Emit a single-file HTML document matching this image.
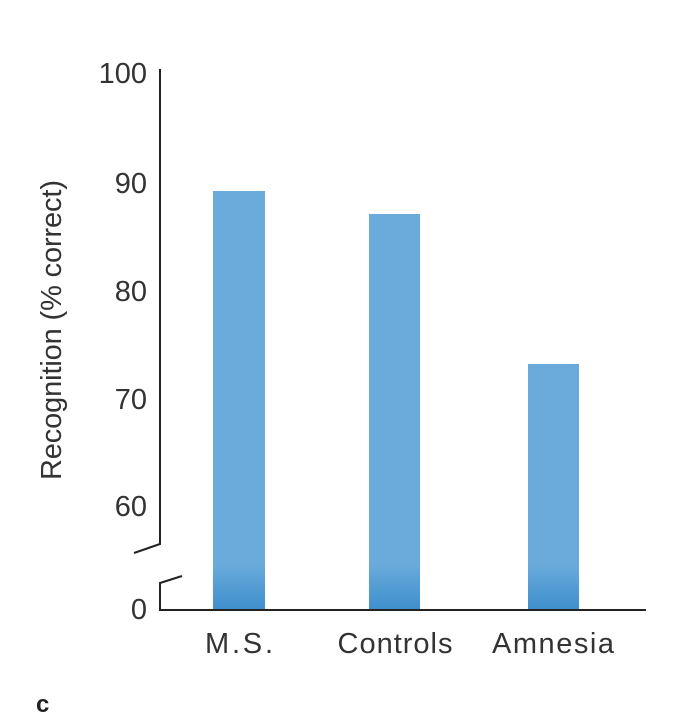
<!DOCTYPE html>
<html><head><style>body{margin:0;background:#fff}</style></head><body>
<svg width="676" height="722" xmlns="http://www.w3.org/2000/svg" font-family="Liberation Sans, sans-serif">
<defs><linearGradient id="g" x1="0" y1="0" x2="0" y2="1"><stop offset="0" stop-color="#6aabdb"/><stop offset="1" stop-color="#3e8fcd"/></linearGradient></defs>
<rect x="213" y="191" width="52" height="373" fill="#6aabdb"/>
<rect x="213" y="564" width="52" height="46" fill="url(#g)"/>
<rect x="369" y="214" width="51" height="350" fill="#6aabdb"/>
<rect x="369" y="564" width="51" height="46" fill="url(#g)"/>
<rect x="528" y="364" width="51" height="200" fill="#6aabdb"/>
<rect x="528" y="564" width="51" height="46" fill="url(#g)"/>
<g stroke="#222" stroke-width="2" fill="none">
<polyline points="160,69 160,544 134,553"/>
<polyline points="182,576 160,583 160,610 646,610"/>
</g>
<g font-size="29" fill="#333" text-anchor="end">
<text x="147" y="83">100</text>
<text x="147" y="193">90</text>
<text x="147" y="301">80</text>
<text x="147" y="409">70</text>
<text x="147" y="516">60</text>
<text x="147" y="619">0</text>
</g>
<g font-size="29" fill="#333" text-anchor="middle">
<text x="239" y="653" textLength="68">M.S.</text>
<text x="395" y="653" textLength="115">Controls</text>
<text x="553" y="653" textLength="122">Amnesia</text>
<text transform="translate(61,330) rotate(-90)" textLength="300">Recognition (% correct)</text>
</g>
<text x="36" y="712" font-size="24" font-weight="bold" fill="#222">c</text>
</svg>
</body></html>
